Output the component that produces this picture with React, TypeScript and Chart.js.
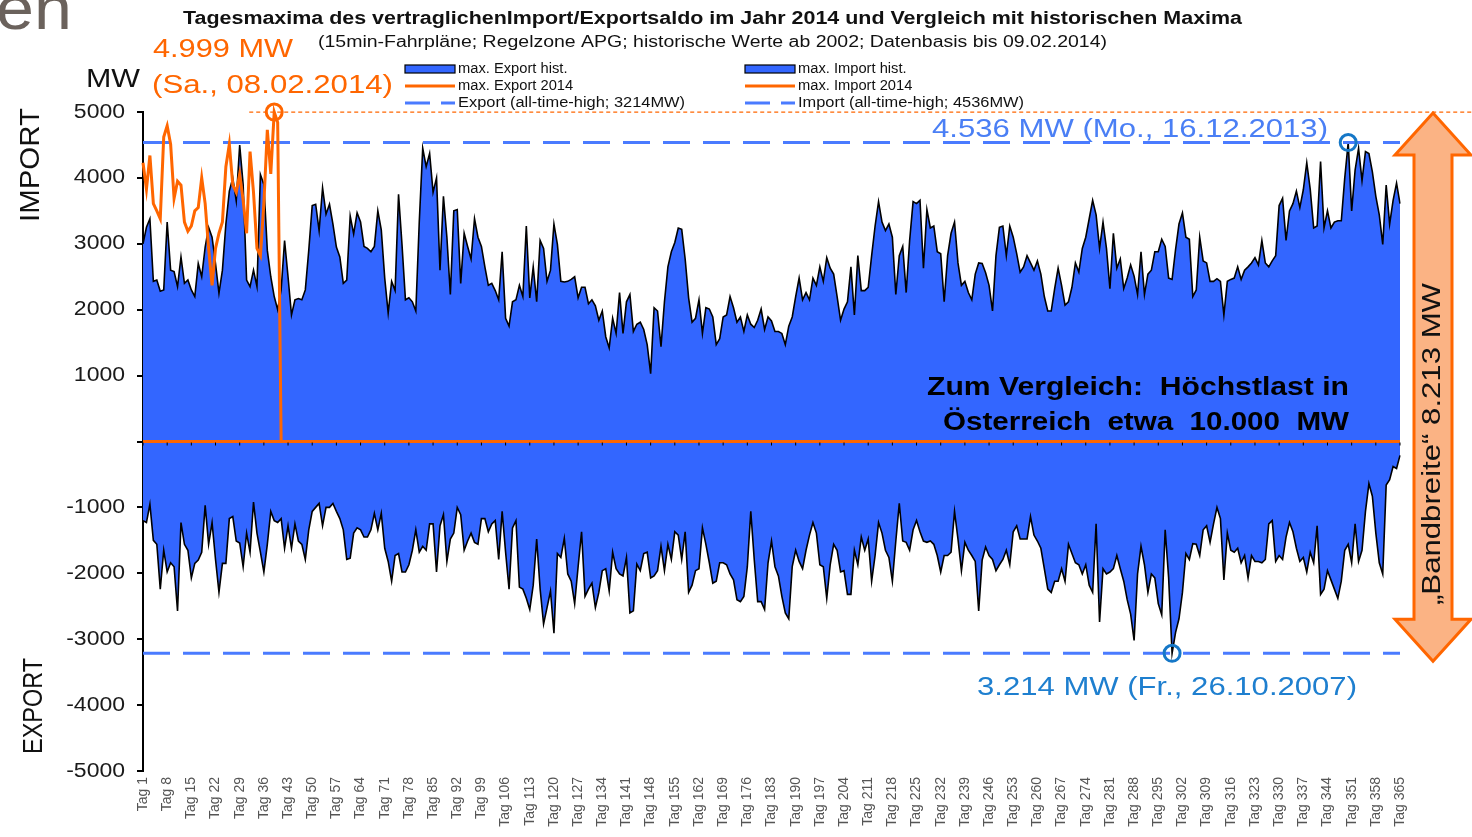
import React, { useEffect, useRef } from 'react';
import { Chart, registerables } from 'chart.js';

Chart.register(...registerables);

// ---------- DATA ----------
const dayLabels: string[] = Array.from({ length: 365 }, (_, i) => `Tag ${i + 1}`);

const yTickValues = [5000, 4000, 3000, 2000, 1000, 0, -1000, -2000, -3000, -4000, -5000];

// max. Import hist. (MW), Tag 1 .. Tag 365
const importHist = [
  3000, 3250, 3380, 2430, 2450, 2280, 2300, 3330, 2600, 2580,
  2350, 2800, 2400, 2450, 2300, 2200, 2700, 2500, 2950, 3250,
  3100, 2700, 2250, 2600, 3300, 3800, 4000, 3650, 4500, 3900,
  2450, 2350, 2600, 2350, 4050, 3900, 2900, 2500, 2200, 2000,
  2300, 3050, 2500, 1920, 2150, 2170, 2150, 2300, 2900, 3580,
  3600, 3200, 3850, 3450, 3600, 3300, 2950, 2800, 2400, 2450,
  3420, 3150, 3470, 3330, 2960, 2930, 2880, 2960, 3500, 3210,
  2480, 1950, 2430, 2290, 3750, 2990, 2150, 2180, 2120, 1980,
  3330, 4450, 4170, 4370, 3780, 4000, 2600, 3720, 3100, 2230,
  3500, 3520, 2400, 3160, 2960, 2770, 3380, 3100, 2960, 2650,
  2370, 2400, 2290, 2150, 2880, 1870, 1750, 2120, 2150, 2370,
  2200, 3270, 2180, 2650, 2120, 3050, 2930, 2430, 2600, 3300,
  2990, 2430, 2420, 2430, 2460, 2500, 2180, 2340, 2340, 2090,
  2150, 2060, 1840, 1980, 1590, 1420, 1870, 1640, 2260, 1640,
  2120, 2230, 1670, 1780, 1810, 1700, 1470, 1030, 2030, 1980,
  1440, 2120, 2650, 2880, 3020, 3240, 3220, 2770, 2180, 1810,
  1870, 2150, 1640, 2030, 2010, 1890, 1470, 1560, 1890, 1920,
  2200, 2030, 1810, 1890, 1670, 1920, 1780, 1730, 1840, 2010,
  1700, 1890, 1830, 1670, 1670, 1640, 1470, 1750, 1890, 2200,
  2480, 2150, 2260, 2150, 2480, 2370, 2650, 2430, 2790, 2630,
  2540, 2200, 1840, 2010, 2120, 2650, 1920, 2820, 2290, 2290,
  2340, 2820, 3270, 3640, 3330, 3200, 3300, 3100, 2230, 2820,
  2960, 2260, 3050, 3640, 3610, 3660, 2630, 3520, 3240, 3270,
  2880, 2850, 2120, 2820, 3160, 3330, 2710, 2370, 2430, 2260,
  2150, 2540, 2710, 2700, 2560, 2370, 1980, 2820, 3250, 3270,
  2820, 3270, 3100, 2850, 2570, 2650, 2820, 2710, 2600, 2740,
  2540, 2200, 1980, 1980, 2320, 2630, 2370, 2070, 2120, 2340,
  2710, 2570, 2930, 3100, 3380, 3660, 3440, 2930, 3330, 2930,
  2320, 3160, 2630, 2770, 2320, 2480, 2680, 2510, 2230, 2880,
  2230, 2540, 2600, 2880, 2880, 3070, 2960, 2480, 2460, 2910,
  3300, 3470, 3100, 3070, 2200, 2300, 3100, 2740, 2710, 2430,
  2430, 2470, 2430, 1920, 2430, 2460, 2480, 2650, 2460, 2600,
  2650, 2710, 2790, 2680, 3050, 2710, 2650, 2740, 2820, 3580,
  3690, 3050, 3500, 3610, 3800, 3550, 3820, 4230, 3830, 3240,
  3270, 4250, 3240, 3500, 3240, 3330, 3350, 3350, 4000, 4536,
  3500, 4120, 4450, 3960, 4400, 4370, 4090, 3720, 3440, 2990,
  3890, 3300, 3660, 3920, 3610,
];

// max. Export hist. (MW, negative), Tag 1 .. Tag 365
const exportHist = [
  -1200, -1230, -950, -1500, -1560, -2240, -1650, -1980, -1840, -1900,
  -2570, -1230, -1560, -1650, -2070, -1850, -1800, -1680, -970, -1560,
  -1230, -1790, -2290, -1850, -1850, -1170, -1140, -1510, -1540, -1900,
  -1390, -1680, -920, -1390, -1680, -1980, -1560, -1060, -1200, -1230,
  -1170, -1620, -1280, -1620, -1250, -1510, -1560, -1790, -1340, -1060,
  -1000, -940, -1280, -1000, -1000, -940, -1060, -1170, -1340, -1790,
  -1770, -1390, -1310, -1340, -1450, -1450, -1340, -1090, -1340, -1090,
  -1620, -1820, -2120, -1730, -1700, -1980, -1980, -1870, -1650, -1340,
  -1680, -1590, -1650, -1250, -1250, -1980, -1280, -1110, -1820, -1480,
  -1390, -1000, -1110, -1650, -1510, -1390, -1530, -1560, -1170, -1170,
  -1370, -1250, -1200, -1790, -1060, -1680, -2240, -1310, -1200, -2210,
  -2240, -2380, -2550, -2180, -1480, -2240, -2770, -2520, -2270, -2910,
  -1700, -1760, -1470, -2010, -2120, -2460, -1900, -1370, -2350, -2240,
  -2150, -2520, -2290, -1960, -1930, -2270, -1680, -1930, -2010, -2040,
  -1760, -2600, -2570, -1860, -1960, -1700, -1680, -2070, -2040, -1960,
  -1590, -1960, -1560, -1790, -1370, -1420, -1790, -1370, -2290, -2180,
  -1960, -1930, -1310, -1560, -1840, -2150, -2120, -1840, -1840, -1870,
  -2010, -2100, -2400, -2430, -2350, -1900, -1060, -1790, -2430, -2430,
  -2550, -1840, -1510, -1900, -2040, -2350, -2600, -2690, -1900, -1650,
  -1820, -1930, -1650, -1420, -1230, -1390, -1870, -1900, -2380, -1870,
  -1560, -1650, -1980, -1960, -2320, -2320, -1650, -1870, -1450, -1650,
  -1480, -2120, -1730, -1230, -1390, -1650, -1760, -2120, -1510, -940,
  -1510, -1530, -1650, -1340, -1200, -1370, -1510, -1530, -1510, -1560,
  -1730, -1980, -1730, -1730, -1680, -1060, -1480, -1960, -1530, -1650,
  -1730, -1820, -2570, -1800, -1600, -1730, -1790, -1960, -1870, -1790,
  -1650, -1870, -1370, -1280, -1480, -1480, -1480, -1140, -1420, -1510,
  -1620, -1930, -2240, -2290, -2120, -2120, -1930, -2120, -1560, -1700,
  -1840, -1870, -2010, -1870, -2180, -2290, -1250, -2740, -1930, -2010,
  -1980, -1930, -1730, -1930, -2120, -2400, -2620, -3020, -2010, -1590,
  -1870, -2290, -2010, -2070, -2460, -2630, -1340, -2070, -3214, -2900,
  -2690, -2290, -1700, -1790, -1550, -1560, -1730, -1340, -1280, -1530,
  -1250, -1000, -1170, -2100, -1390, -1650, -1680, -1620, -1840, -1730,
  -2070, -1730, -1820, -1820, -1840, -1790, -1250, -1200, -1820, -1730,
  -1790, -1450, -1230, -1370, -1620, -1820, -1760, -1980, -1680, -1840,
  -1280, -2320, -2240, -1960, -2100, -2240, -2380, -2120, -1650, -1560,
  -1840, -1250, -1820, -1650, -1060, -640, -830, -1390, -1840, -2010,
  -660, -580, -380, -410, -210,
];

// max. Import 2014 (MW), Tag 1 .. Tag 41 (no data after 09.02.2014 -> 0)
const import2014 = [
  4230, 3830, 4340, 3610, 3500, 3380, 4620, 4790, 4510, 3690,
  3950, 3890, 3330, 3190, 3270, 3500, 3550, 4000, 3610, 2930,
  2370, 2930, 3160, 3330, 4170, 4510, 3890, 3780, 4060, 3660,
  3160, 4400, 3780, 2930, 2820, 3610, 4730, 4060, 4999, 4840,
  0,
];

// max. Export 2014 (MW): zero over the whole year
const export2014Level = 0;

const importATH = 4536; // 16.12.2013
const exportATH = -3214; // 26.10.2007
const peak2014 = 4999; // 08.02.2014
const peak2014Day = 'Tag 39';
const importATHDay = 'Tag 350';
const exportATHDay = 'Tag 299';

// ---------- STYLE ----------
const BLUE = '#3366FF';
const DASH_BLUE = '#4A7BFF';
const ORANGE = '#FF6600';
const CIRCLE_BLUE = '#1577C7';
const FONT = '"Liberation Sans", Arial, sans-serif';

function txt(
  ctx: CanvasRenderingContext2D,
  s: string,
  x: number,
  y: number,
  o: { font: string; color: string; align?: CanvasTextAlign; w?: number; sx?: number; rot?: number }
) {
  ctx.save();
  ctx.font = o.font;
  ctx.fillStyle = o.color;
  ctx.textBaseline = 'middle';
  ctx.textAlign = o.align ?? 'left';
  ctx.translate(x, y);
  if (o.rot) ctx.rotate(o.rot);
  let sx = o.sx ?? 1;
  if (o.w) sx = o.w / ctx.measureText(s).width;
  ctx.scale(sx, 1);
  ctx.fillText(s, 0, 0);
  ctx.restore();
}

const overlayPlugin = {
  id: 'overlay',
  afterDatasetsDraw(chart: any) {
    const ctx: CanvasRenderingContext2D = chart.ctx;
    const xs = chart.scales.x;
    const ys = chart.scales.y;
    // tick marks on the zero line
    const y0 = ys.getPixelForValue(0);
    ctx.save();
    ctx.strokeStyle = '#000';
    ctx.lineWidth = 1;
    dayLabels.forEach((_, i) => {
      if (i % 7 !== 0) return;
      const x = xs.getPixelForValue(i);
      ctx.beginPath();
      ctx.moveTo(x, y0 + 1);
      ctx.lineTo(x, y0 + 4);
      ctx.stroke();
    });
    ctx.restore();
  },
  afterDraw(chart: any) {
    const ctx: CanvasRenderingContext2D = chart.ctx;
    const xs = chart.scales.x;
    const ys = chart.scales.y;
    const W = chart.width;

    // y tick labels
    yTickValues.forEach((v) => {
      if (v === 0) return;
      txt(ctx, String(v), 125, ys.getPixelForValue(v), {
        font: `20px ${FONT}`,
        color: '#1a1a1a',
        align: 'right',
        sx: 1.15,
      });
    });

    // dotted orange line at 2014 peak
    const yPeak = ys.getPixelForValue(peak2014);
    const xPeak = xs.getPixelForValue(dayLabels.indexOf(peak2014Day));
    ctx.save();
    ctx.strokeStyle = ORANGE;
    ctx.lineWidth = 1.3;
    ctx.setLineDash([4, 3]);
    ctx.beginPath();
    ctx.moveTo(xPeak - 25, yPeak);
    ctx.lineTo(W, yPeak);
    ctx.stroke();
    ctx.restore();

    // double arrow "Bandbreite"
    const top = yPeak + 1;
    const bot = ys.getPixelForValue(exportATH) + 8;
    const cx = 1433;
    ctx.save();
    ctx.beginPath();
    ctx.moveTo(cx, top);
    ctx.lineTo(cx + 38, top + 42);
    ctx.lineTo(cx + 19, top + 42);
    ctx.lineTo(cx + 19, bot - 42);
    ctx.lineTo(cx + 38, bot - 42);
    ctx.lineTo(cx, bot);
    ctx.lineTo(cx - 38, bot - 42);
    ctx.lineTo(cx - 19, bot - 42);
    ctx.lineTo(cx - 19, top + 42);
    ctx.lineTo(cx - 38, top + 42);
    ctx.closePath();
    ctx.fillStyle = '#FBB384';
    ctx.fill();
    ctx.strokeStyle = ORANGE;
    ctx.lineWidth = 3;
    ctx.lineJoin = 'miter';
    ctx.stroke();
    ctx.restore();
    txt(ctx, '\u201EBandbreite\u201C 8.213 MW', cx, 444, {
      font: `26px ${FONT}`,
      color: '#111',
      align: 'center',
      rot: -Math.PI / 2,
      w: 322,
    });

    // slide remnant
    txt(ctx, 'en', -4, 12, { font: `62px ${FONT}`, color: '#6b625c', sx: 1.1 });

    // title
    txt(ctx, 'Tagesmaxima des vertraglichenImport/Exportsaldo im Jahr 2014 und Vergleich mit historischen Maxima', 183, 19, {
      font: `bold 18px ${FONT}`,
      color: '#111',
      w: 1059,
    });
    txt(ctx, '(15min-Fahrpläne; Regelzone APG; historische Werte ab 2002; Datenbasis bis 09.02.2014)', 318, 43, {
      font: `16px ${FONT}`,
      color: '#111',
      w: 789,
    });

    // legend
    const legend = (x: number, kind: string, y: number, label: string, w?: number) => {
      ctx.save();
      if (kind === 'area') {
        ctx.fillStyle = BLUE;
        ctx.fillRect(x, y - 4, 50, 8);
        ctx.strokeStyle = '#000';
        ctx.lineWidth = 1.2;
        ctx.strokeRect(x, y - 4, 50, 8);
      } else if (kind === 'line') {
        ctx.strokeStyle = ORANGE;
        ctx.lineWidth = 3;
        ctx.beginPath();
        ctx.moveTo(x, y);
        ctx.lineTo(x + 50, y);
        ctx.stroke();
      } else {
        ctx.strokeStyle = DASH_BLUE;
        ctx.lineWidth = 3;
        ctx.beginPath();
        ctx.moveTo(x, y);
        ctx.lineTo(x + 25, y);
        ctx.moveTo(x + 36, y);
        ctx.lineTo(x + 50, y);
        ctx.stroke();
      }
      ctx.restore();
      txt(ctx, label, x + 53, y, { font: `14px ${FONT}`, color: '#111', sx: w ? undefined : 1.05, w });
    };
    legend(405, 'area', 69, 'max. Export hist.');
    legend(405, 'line', 86, 'max. Export 2014');
    legend(405, 'dash', 103, 'Export (all-time-high; 3214MW)', 227);
    legend(745, 'area', 69, 'max. Import hist.');
    legend(745, 'line', 86, 'max. Import 2014');
    legend(745, 'dash', 103, 'Import (all-time-high; 4536MW)', 226);

    // left annotations
    txt(ctx, '4.999 MW', 153, 50, { font: `26px ${FONT}`, color: ORANGE, w: 140 });
    txt(ctx, '(Sa., 08.02.2014)', 152, 86, { font: `26px ${FONT}`, color: ORANGE, w: 241 });
    txt(ctx, 'MW', 86, 80, { font: `26px ${FONT}`, color: '#111', w: 54 });
    txt(ctx, 'IMPORT', 31, 165, { font: `28px ${FONT}`, color: '#111', align: 'center', rot: -Math.PI / 2, w: 114 });
    txt(ctx, 'EXPORT', 34, 706, { font: `28px ${FONT}`, color: '#111', align: 'center', rot: -Math.PI / 2, w: 96 });

    // right annotations
    txt(ctx, '4.536 MW (Mo., 16.12.2013)', 932, 130, { font: `26px ${FONT}`, color: '#4A7FF5', w: 396 });
    txt(ctx, '3.214 MW (Fr., 26.10.2007)', 977, 688, { font: `26px ${FONT}`, color: '#1E7FCF', w: 380 });
    txt(ctx, 'Zum Vergleich:  Höchstlast in', 1349, 388, { font: `bold 26px ${FONT}`, color: '#000', align: 'right', w: 422 });
    txt(ctx, 'Österreich  etwa  10.000  MW', 1349, 423, { font: `bold 26px ${FONT}`, color: '#000', align: 'right', w: 406 });
  },
};

export default function App() {
  const ref = useRef<HTMLCanvasElement | null>(null);

  useEffect(() => {
    if (!ref.current) return;
    const pointDs = (day: string, value: number, color: string) => ({
      type: 'line' as const,
      data: [{ x: day, y: value }],
      showLine: false,
      pointRadius: 8,
      pointHoverRadius: 8,
      pointBorderWidth: 3,
      pointBorderColor: color,
      pointBackgroundColor: 'rgba(0,0,0,0)',
      clip: false as any,
    });
    const chart = new Chart(ref.current, {
      type: 'line',
      data: {
        labels: dayLabels,
        datasets: [
          pointDs(peak2014Day, peak2014, ORANGE),
          pointDs(importATHDay, importATH, CIRCLE_BLUE),
          pointDs(exportATHDay, exportATH, CIRCLE_BLUE),
          {
            label: 'max. Import 2014',
            data: import2014,
            borderColor: ORANGE,
            borderWidth: 3,
            pointRadius: 0,
            fill: false,
            tension: 0,
            clip: false as any,
          },
          {
            label: 'max. Export 2014',
            data: [
              { x: dayLabels[0], y: export2014Level },
              { x: dayLabels[364], y: export2014Level },
            ],
            borderColor: ORANGE,
            borderWidth: 3,
            pointRadius: 0,
            fill: false,
          },
          {
            label: 'Import (all-time-high; 4536MW)',
            data: [
              { x: dayLabels[0], y: importATH },
              { x: dayLabels[364], y: importATH },
            ],
            borderColor: DASH_BLUE,
            borderWidth: 3,
            borderDash: [27, 13],
            pointRadius: 0,
            fill: false,
          },
          {
            label: 'Export (all-time-high; 3214MW)',
            data: [
              { x: dayLabels[0], y: exportATH },
              { x: dayLabels[364], y: exportATH },
            ],
            borderColor: DASH_BLUE,
            borderWidth: 3,
            borderDash: [27, 13],
            pointRadius: 0,
            fill: false,
          },
          {
            label: 'max. Import hist.',
            data: importHist,
            borderColor: '#000',
            borderWidth: 1.6,
            backgroundColor: BLUE,
            fill: 'origin',
            pointRadius: 0,
            tension: 0,
          },
          {
            label: 'max. Export hist.',
            data: exportHist,
            borderColor: '#000',
            borderWidth: 1.6,
            backgroundColor: BLUE,
            fill: 'origin',
            pointRadius: 0,
            tension: 0,
          },
        ],
      },
      options: {
        responsive: false,
        animation: false,
        events: [],
        layout: { padding: { top: 112, right: 72, bottom: 0, left: 0 } },
        plugins: {
          legend: { display: false },
          title: { display: false },
          tooltip: { enabled: false },
        },
        scales: {
          x: {
            type: 'category',
            offset: false,
            grid: { display: false, drawTicks: false },
            border: { display: false },
            ticks: {
              autoSkip: false,
              minRotation: 90,
              maxRotation: 90,
              padding: 6,
              color: '#555',
              font: { family: FONT, size: 14 },
              callback: (_v: any, i: number) => (i % 7 === 0 ? dayLabels[i] : ''),
            },
            afterFit: (s: any) => {
              s.height = 66;
            },
          },
          y: {
            min: -5000,
            max: 5000,
            ticks: { stepSize: 1000, display: false },
            grid: { drawOnChartArea: false, drawTicks: true, tickLength: 6, color: '#000', lineWidth: 2 },
            border: { display: true, color: '#000', width: 2 },
            afterFit: (s: any) => {
              s.width = 143;
            },
          },
        },
      },
      plugins: [overlayPlugin],
    } as any);
    return () => chart.destroy();
  }, []);

  return (
    <div style={{ position: 'fixed', left: 0, top: 0, width: 1472, height: 837, background: '#fff' }}>
      <canvas ref={ref} width={1472} height={837} />
    </div>
  );
}
